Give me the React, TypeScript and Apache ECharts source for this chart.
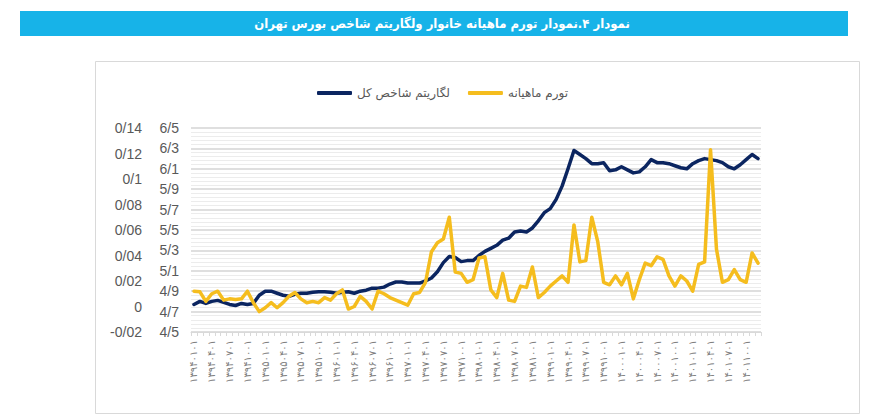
import React, { useEffect, useRef } from "react";
import * as echarts from "echarts";

const titleText = "نمودار ۴.نمودار تورم ماهیانه خانوار ولگاریتم شاخص بورس تهران";
const seriesNames = ["لگاریتم شاخص کل", "تورم ماهیانه"];

const months = [
  "13940101", "13940201", "13940301", "13940401", "13940501", "13940601", "13940701", "13940801", "13940901", "13941001", "13941101", "13941201",
  "13950101", "13950201", "13950301", "13950401", "13950501", "13950601", "13950701", "13950801", "13950901", "13951001", "13951101", "13951201",
  "13960101", "13960201", "13960301", "13960401", "13960501", "13960601", "13960701", "13960801", "13960901", "13961001", "13961101", "13961201",
  "13970101", "13970201", "13970301", "13970401", "13970501", "13970601", "13970701", "13970801", "13970901", "13971001", "13971101", "13971201",
  "13980101", "13980201", "13980301", "13980401", "13980501", "13980601", "13980701", "13980801", "13980901", "13981001", "13981101", "13981201",
  "13990101", "13990201", "13990301", "13990401", "13990501", "13990601", "13990701", "13990801", "13990901", "13991001", "13991101", "13991201",
  "14000101", "14000201", "14000301", "14000401", "14000501", "14000601", "14000701", "14000801", "14000901", "14001001", "14001101", "14001201",
  "14010101", "14010201", "14010301", "14010401", "14010501", "14010601", "14010701", "14010801", "14010901", "14011001", "14011101", "14011201",
];

// logarithm of the TEDPIX (secondary axis, 4.5 .. 6.5)
const logIndex = [
  4.77, 4.8, 4.78, 4.8, 4.81, 4.79, 4.77, 4.76, 4.78, 4.77, 4.78, 4.86,
  4.9, 4.9, 4.88, 4.86, 4.85, 4.87, 4.88, 4.88, 4.89, 4.895, 4.895, 4.89,
  4.88, 4.89, 4.895, 4.88, 4.9, 4.91, 4.93, 4.93, 4.94, 4.97, 4.99, 4.99,
  4.98, 4.98, 4.98, 5.0, 5.03, 5.09, 5.18, 5.24, 5.23, 5.19, 5.2, 5.2,
  5.25, 5.29, 5.32, 5.35, 5.4, 5.42, 5.48, 5.49, 5.48, 5.52, 5.59, 5.67,
  5.71, 5.8, 5.93, 6.1, 6.28, 6.24, 6.2, 6.15, 6.15, 6.16, 6.08, 6.09,
  6.12, 6.09, 6.06, 6.07, 6.12, 6.19, 6.16, 6.16, 6.15, 6.13, 6.11, 6.1,
  6.15, 6.18, 6.2, 6.19, 6.18, 6.16, 6.12, 6.1, 6.14, 6.19, 6.24, 6.2,
];

// monthly household inflation (primary axis, -0.02 .. 0.14)
const monthlyInflation = [
  0.012, 0.0115, 0.004, 0.01, 0.012, 0.005, 0.006, 0.0055, 0.006, 0.012, 0.003, -0.004,
  -0.001, 0.003, -0.001, 0.003, 0.008, 0.011, 0.006, 0.003, 0.004, 0.003, 0.007, 0.005,
  0.01, 0.013, -0.002, 0.0, 0.008, 0.004, -0.002, 0.012, 0.01, 0.007, 0.005, 0.003,
  0.001, 0.01, 0.011, 0.019, 0.043, 0.05, 0.053, 0.07, 0.027, 0.026, 0.019, 0.021,
  0.038, 0.039, 0.013, 0.007, 0.026, 0.005, 0.004, 0.016, 0.015, 0.031, 0.007, 0.011,
  0.016, 0.02, 0.024, 0.019, 0.064, 0.035, 0.036, 0.07, 0.051, 0.019, 0.017, 0.024,
  0.017, 0.026, 0.006, 0.021, 0.034, 0.032, 0.039, 0.037, 0.024, 0.016, 0.024, 0.02,
  0.012, 0.033, 0.035, 0.123, 0.045, 0.019, 0.021, 0.029, 0.021, 0.019, 0.042, 0.034,
];

const inflationAxis = { min: -0.02, max: 0.14, interval: 0.02 };
const logAxis = { min: 4.5, max: 6.5, interval: 0.2 };

const persianDigits = "۰۱۲۳۴۵۶۷۸۹";
const toPersian = (s: string) => s.replace(/[0-9]/g, (d) => persianDigits[Number(d)]);
const fmtNum = (v: number) => String(Math.round(v * 100) / 100).replace(".", "/");

const NAVY = "#0b2560";
const GOLD = "#f5bd1e";
const LABEL = "#595959";

export default function App() {
  const ref = useRef<HTMLDivElement>(null);
  useEffect(() => {
    if (!ref.current) return;
    const chart = echarts.init(ref.current, undefined, { renderer: "svg" });
    chart.setOption({
      animation: false,
      backgroundColor: "#ffffff",
      graphic: [
        {
          type: "rect",
          shape: { x: 20, y: 11, width: 828, height: 25 },
          style: { fill: "#17b3e8" },
          z: 0,
        },
        {
          type: "text",
          x: 442,
          y: 23.5,
          style: {
            text: titleText,
            fill: "#ffffff",
            font: "bold 13px 'DejaVu Sans Condensed', 'DejaVu Sans'",
            align: "center",
            verticalAlign: "middle",
          },
          z: 1,
        },
        {
          type: "rect",
          shape: { x: 95.5, y: 61.5, width: 764, height: 352 },
          style: { fill: "none", stroke: "#d9d9d9", lineWidth: 1 },
          z: 0,
        },
      ],
      legend: {
        data: seriesNames,
        left: 312,
        top: 82,
        icon: "roundRect",
        itemWidth: 35,
        itemHeight: 4,
        itemGap: 18,
        textStyle: { color: LABEL, fontSize: 12, fontFamily: "DejaVu Sans" },
      },
      grid: { left: 191, right: 123, top: 128, bottom: 86, containLabel: false },
      xAxis: {
        type: "category",
        data: months,
        boundaryGap: true,
        axisLine: { onZero: false, lineStyle: { color: "#d9d9d9" } },
        axisTick: { show: true, interval: 0, length: 4, lineStyle: { color: "#d9d9d9" } },
        axisLabel: {
          interval: 2,
          rotate: 90,
          fontSize: 10,
          color: "#7f7f7f",
          fontFamily: "DejaVu Sans",
          margin: 8,
          formatter: (v: string) => toPersian(v),
        },
        splitLine: { show: false },
      },
      yAxis: [
        {
          type: "value",
          position: "left",
          offset: 37,
          min: inflationAxis.min,
          max: inflationAxis.max,
          interval: inflationAxis.interval,
          axisLine: { show: false },
          axisTick: { show: false },
          axisLabel: {
            color: LABEL,
            fontSize: 14,
            fontFamily: "Liberation Sans",
            margin: 12,
            formatter: (v: number) => fmtNum(v),
          },
          splitLine: { show: false },
        },
        {
          type: "value",
          position: "left",
          min: logAxis.min,
          max: logAxis.max,
          interval: logAxis.interval,
          axisLine: { show: false },
          axisTick: { show: false },
          axisLabel: {
            color: LABEL,
            fontSize: 14,
            fontFamily: "Liberation Sans",
            margin: 12,
            formatter: (v: number) => fmtNum(v),
          },
          splitLine: { show: true, lineStyle: { color: "#d4d4d4", width: 1.5 } },
          minorTick: { show: false, splitNumber: 5 },
          minorSplitLine: { show: true, lineStyle: { color: "#ececec", width: 1 } },
        },
      ],
      series: [
        {
          name: seriesNames[0],
          type: "line",
          yAxisIndex: 1,
          data: logIndex,
          symbol: "none",
          lineStyle: { color: NAVY, width: 3.5, join: "round", cap: "round" },
          itemStyle: { color: NAVY },
          z: 2,
        },
        {
          name: seriesNames[1],
          type: "line",
          yAxisIndex: 0,
          data: monthlyInflation,
          symbol: "none",
          lineStyle: { color: GOLD, width: 3.5, join: "round", cap: "round" },
          itemStyle: { color: GOLD },
          z: 3,
        },
      ],
    });
    return () => chart.dispose();
  }, []);
  return (
    <div
      ref={ref}
      style={{ position: "fixed", left: 0, top: 0, width: 884, height: 418, background: "#fff" }}
    />
  );
}
